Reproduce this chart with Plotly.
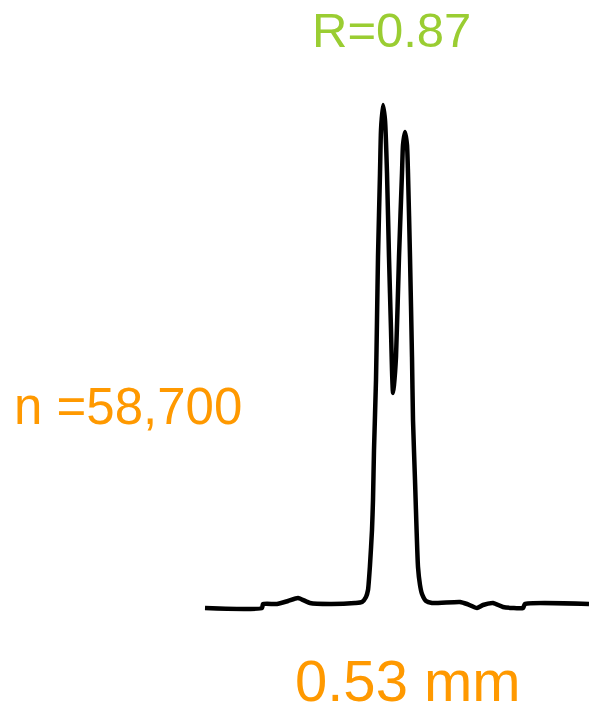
import plotly.graph_objects as go

# Profile data (position in arbitrary units, signal in arbitrary units)
position = [0, 57, 58, 72, 83, 93, 105, 125, 150, 157, 161, 163, 165, 167, 168, 169,
            171, 172, 173, 175, 176, 178, 180, 182, 184, 186, 187, 188, 189, 191,
            194, 197, 198, 200, 202, 203, 205, 207, 208, 210, 213, 215, 217, 221,
            227, 255, 262, 272, 278, 288, 298, 308, 318, 320, 384]
signal = [0, 0, 4, 4, 7, 10, 5, 4, 5, 6, 11, 18, 43, 78, 108, 158,
          228, 288, 351, 435, 478, 503, 488, 435, 351, 278, 238, 215, 223, 251,
          351, 435, 463, 476, 463, 435, 351, 251, 188, 128, 41, 23, 14, 7,
          5, 6, 4, 0, 3, 5, 1, 0, 0, 4, 4]

title_label = "R=0.87"
count_label = "n =58,700"
size_label = "0.53\u00a0mm"

W, H = 589, 708
GREEN = "#9ACD32"
ORANGE = "#FF9900"

fig = go.Figure()
fig.add_trace(go.Scatter(
    x=position, y=signal, mode="lines",
    line=dict(color="black", width=4.5, shape="spline", smoothing=0.5),
    hoverinfo="skip", showlegend=False,
))

font_family = "Liberation Sans, Arial, sans-serif"
fig.add_annotation(x=391 / W, y=1 - 30 / H, xref="paper", yref="paper",
                   text=title_label, showarrow=False, xanchor="center", yanchor="middle",
                   font=dict(family=font_family, size=49, color=GREEN))
fig.add_annotation(x=12 / W, y=1 - 407 / H, xref="paper", yref="paper",
                   text=count_label, showarrow=False, xanchor="left", yanchor="middle",
                   font=dict(family=font_family, size=51, color=ORANGE))
fig.add_annotation(x=408 / W, y=1 - 680 / H, xref="paper", yref="paper",
                   text=size_label, showarrow=False, xanchor="center", yanchor="middle",
                   font=dict(family=font_family, size=58, color=ORANGE))

fig.update_layout(
    width=W, height=H,
    margin=dict(l=0, r=0, t=0, b=0),
    paper_bgcolor="white", plot_bgcolor="white",
    xaxis=dict(range=[-205, 384], visible=False, fixedrange=True),
    yaxis=dict(range=[-100, 608], visible=False, fixedrange=True),
)

fig.write_html("out.html", config={"displayModeBar": False},
               post_script="document.body.style.margin='0';document.body.style.overflow='hidden';")
